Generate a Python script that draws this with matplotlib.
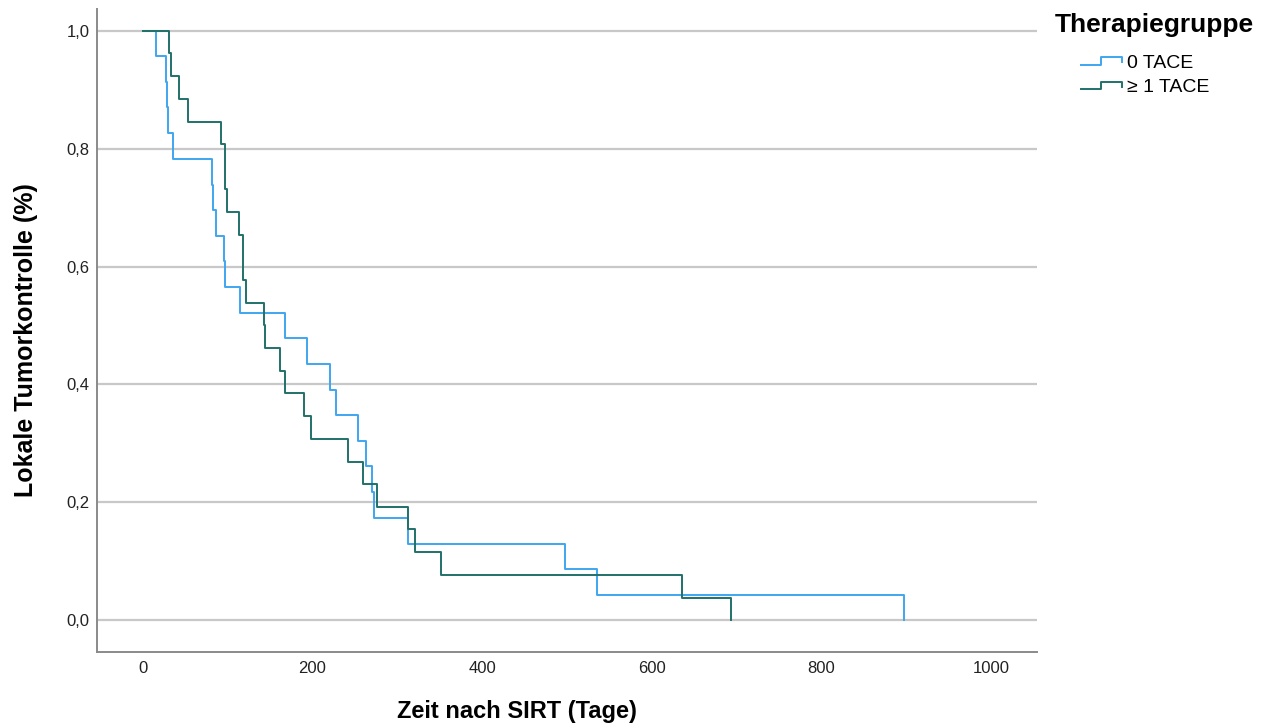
import matplotlib
matplotlib.use('Agg')
import matplotlib.pyplot as plt
from matplotlib.legend_handler import HandlerBase
from matplotlib.lines import Line2D

plt.rcParams['font.family'] = ['Liberation Sans', 'DejaVu Sans']

# Kaplan-Meier Stufen (Tage, Anteil)
zeit_0 = [0, 16, 27, 28, 30, 35, 82, 83, 86, 96, 97, 114, 168, 194, 221, 228,
          254, 263, 270, 273, 312, 498, 535, 897]
kontrolle_0 = [1.0, 0.957, 0.913, 0.870, 0.826, 0.783, 0.739, 0.696, 0.652, 0.609,
               0.565, 0.522, 0.478, 0.435, 0.391, 0.348, 0.304, 0.261, 0.217, 0.174,
               0.130, 0.087, 0.043, 0.0]

zeit_1 = [0, 31, 33, 43, 53, 92, 97, 99, 113, 118, 121, 143, 144, 162, 168, 190,
          198, 242, 260, 276, 312, 321, 352, 636, 693]
kontrolle_1 = [1.0, 0.962, 0.923, 0.885, 0.846, 0.808, 0.731, 0.692, 0.654, 0.577,
               0.538, 0.500, 0.462, 0.423, 0.385, 0.346, 0.308, 0.269, 0.231, 0.192,
               0.154, 0.115, 0.077, 0.038, 0.0]

gruppen = ['0 TACE', '≥ 1 TACE']
farben = ['#3ea6ef', '#21706a']
x_ticks = [0, 200, 400, 600, 800, 1000]
y_ticks = [0.0, 0.2, 0.4, 0.6, 0.8, 1.0]


class HandlerStep(HandlerBase):
    # kleines Stufensymbol wie in SPSS
    def create_artists(self, legend, orig_handle, xdescent, ydescent,
                       width, height, fontsize, trans):
        x0, y0 = -xdescent, -ydescent
        xs = [x0, x0 + 0.5 * width, x0 + 0.5 * width, x0 + width, x0 + width]
        ys = [y0 + 0.2 * height, y0 + 0.2 * height, y0 + 0.75 * height,
              y0 + 0.75 * height, y0 + 0.4 * height]
        ln = Line2D(xs, ys, color=orig_handle.get_color(), lw=1.4, transform=trans)
        return [ln]


fig = plt.figure(figsize=(12.62, 7.25), dpi=100)
ax = fig.add_axes([0.0769, 0.1007, 0.7448, 0.8869])

for y in y_ticks:
    ax.axhline(y, color='#c8c8c8', lw=1.6, zorder=0)

l0, = ax.step(zeit_0, kontrolle_0, where='post', color=farben[0], lw=1.4, label=gruppen[0])
l1, = ax.step(zeit_1, kontrolle_1, where='post', color=farben[1], lw=1.4, label=gruppen[1])

ax.set_xlim(-54, 1054)
ax.set_ylim(-0.054, 1.037)
ax.set_xticks(x_ticks)
ax.set_yticks(y_ticks)
ax.set_yticklabels([f'{v:.1f}'.replace('.', ',') for v in y_ticks])
ax.tick_params(length=0, labelsize=12, colors='#222222')
ax.tick_params(axis='y', pad=5.5)
ax.tick_params(axis='x', pad=6.5)

for s in ['top', 'right']:
    ax.spines[s].set_visible(False)
for s in ['left', 'bottom']:
    ax.spines[s].set_color('#8a8a8a')
    ax.spines[s].set_linewidth(1.4)

ax.set_xlabel('Zeit nach SIRT (Tage)', fontsize=17, fontweight='bold')
ax.xaxis.set_label_coords(0.447, -0.075)
ax.set_ylabel('Lokale Tumorkontrolle (%)', fontsize=18, fontweight='bold')
ax.yaxis.set_label_coords(-0.063, 0.485)

fig.text(1055 / 1262, 1 - 25 / 725, 'Therapiegruppe', fontsize=19, fontweight='bold',
         ha='left', va='center')
leg = fig.legend(handles=[l0, l1], labels=gruppen, loc='upper left',
                 bbox_to_anchor=(1081 / 1262, 1 - 54 / 725), frameon=False,
                 fontsize=14, borderpad=0, borderaxespad=0,
                 handler_map={Line2D: HandlerStep()},
                 handlelength=2.1, handletextpad=0.25, labelspacing=0.35)

fig.savefig('out.png', dpi=100)
